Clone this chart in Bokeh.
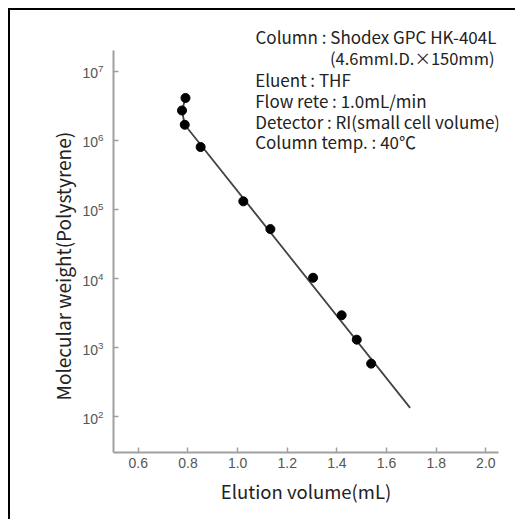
import math
from bokeh.plotting import figure
from bokeh.models import Range1d, FixedTicker, Label, Title
from bokeh.embed import file_html
from bokeh.resources import INLINE

# ---- data ----
elution_ml = [0.790, 0.776, 0.787, 0.851, 1.023, 1.132, 1.304, 1.419, 1.480, 1.538]
mol_weight = [4.1e6, 2.7e6, 1.68e6, 8.0e5, 1.31e5, 5.2e4, 1.03e4, 2.95e3, 1.31e3, 5.9e2]

curve_ml = [0.790, 0.776, 0.787, 1.695]
curve_mw = [4.1e6, 2.7e6, 1.68e6, 1.35e2]

x_ticks = [0.6, 0.8, 1.0, 1.2, 1.4, 1.6, 1.8, 2.0]
x_tick_labels = ["0.6", "0.8", "1.0", "1.2", "1.4", "1.6", "1.8", "2.0"]
y_ticks = [1e2, 1e3, 1e4, 1e5, 1e6, 1e7]

info_lines = [
    "Column : Shodex GPC HK-404L",
    "(4.6mmI.D.\u00d7150mm)",
    "Eluent : THF",
    "Flow rete : 1.0mL/min",
    "Detector : RI(small cell volume)",
    "Column temp. : 40\u2103",
]

JP = "Noto Sans CJK JP"
AX = "#a0a0a0"
TXT = "#222222"

p = figure(width=507, height=511, output_backend="svg", toolbar_location=None,
           y_axis_type="log",
           x_range=Range1d(0.5, 2.051), y_range=Range1d(30.6, 1.99e7),
           min_border_left=103, min_border_right=19, min_border_top=40, min_border_bottom=69)
p.styles = {"margin-left": "8px", "margin-top": "8px",
            "border-left": "2px solid black", "border-top": "2px solid black"}
p.outline_line_color = None
p.xgrid.visible = False
p.ygrid.visible = False
p.background_fill_color = "white"
p.border_fill_color = "white"

for ax in (p.xaxis[0], p.yaxis[0]):
    ax.axis_line_color = AX
    ax.axis_line_width = 2
    ax.major_tick_line_color = AX
    ax.major_tick_line_width = 1.5
    ax.major_tick_in = 5
    ax.major_tick_out = 0
    ax.minor_tick_line_color = None
    ax.major_label_text_color = "#555555"
    ax.major_label_text_font = "Liberation Sans"
    ax.major_label_text_font_size = "14px"

p.xaxis.ticker = FixedTicker(ticks=x_ticks)
p.xaxis.major_label_overrides = {t: l for t, l in zip(x_ticks, x_tick_labels)}
p.xaxis.major_label_standoff = 5
p.yaxis.ticker = FixedTicker(ticks=y_ticks)
p.yaxis.major_label_standoff = 10

p.xaxis.axis_label = "Elution volume(mL)"
p.xaxis.axis_label_text_font = JP
p.xaxis.axis_label_text_font_size = "18.5px"
p.xaxis.axis_label_text_font_style = "normal"
p.xaxis.axis_label_text_color = TXT
p.xaxis.axis_label_standoff = 7

p.line(curve_ml, curve_mw, line_color="#444444", line_width=1.8)
p.scatter(elution_ml, mol_weight, size=9, fill_color="black", line_color="black")

# y axis label as a left-side title, offset from the frame bottom
p.add_layout(Title(text="Molecular weight(Polystyrene)", align="left", offset=52,
                   standoff=8, text_font=JP, text_font_size="19px",
                   text_font_style="normal", text_color=TXT), "left")

# first info line sits above the frame
p.add_layout(Title(text=info_lines[0], align="left", offset=142, standoff=4,
                   text_font=JP, text_font_size="17px",
                   text_font_style="normal", text_color=TXT), "above")

ys = [415.6, 394.6, 373.3, 352.3, 331.3, 310.6]
xs = [141.7, 381.0, 141.7, 141.7, 141.7, 141.7]
aligns = ["left", "right", "left", "left", "left", "left"]
for t, xx, yy, al in list(zip(info_lines, xs, ys, aligns))[1:]:
    p.add_layout(Label(x=xx, y=yy, x_units="screen", y_units="screen", text=t,
                       text_align=al, text_baseline="middle",
                       text_font=JP, text_font_size="16.5px" if al == "right" else "17px",
                       text_color=TXT))

open("out.html", "w").write(file_html(p, INLINE))
